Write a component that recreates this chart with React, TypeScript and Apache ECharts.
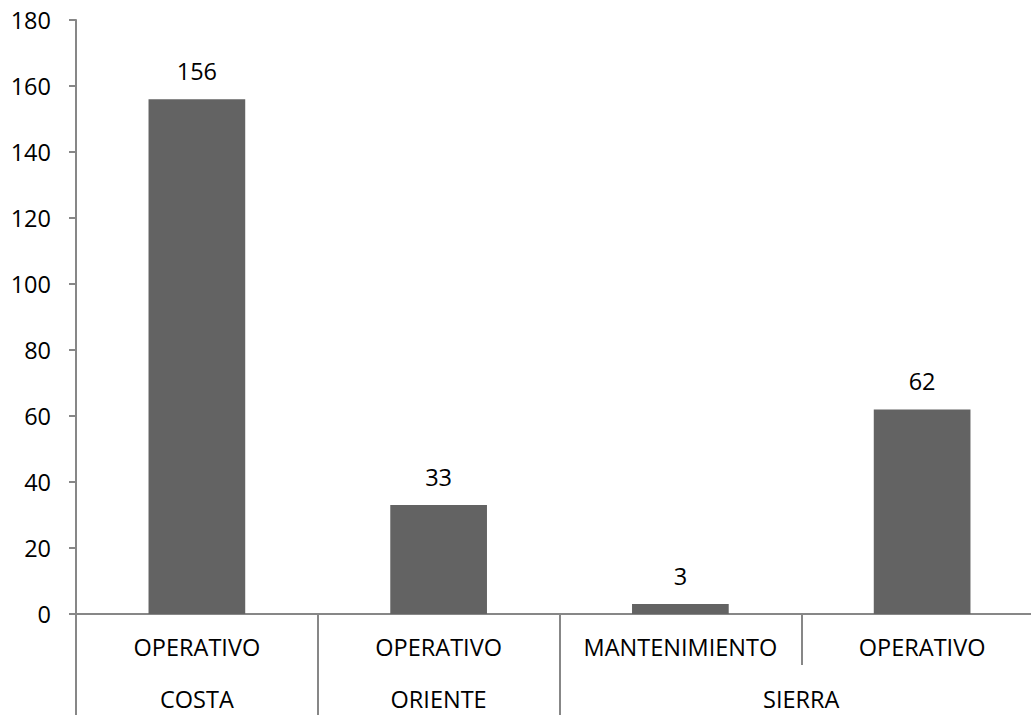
import React, { useEffect, useRef } from "react";
import * as echarts from "echarts";

const categories = ["OPERATIVO", "OPERATIVO", "MANTENIMIENTO", "OPERATIVO"];
const values = [156, 33, 3, 62];
const groupNames = ["COSTA", "ORIENTE", "SIERRA"];
const groupSizes = [1, 1, 2];

const AXIS = "#878787";
const BAR = "#636363";
const FONT = "Open Sans";
const FS = 23.5;

export default function App() {
  const ref = useRef<HTMLDivElement>(null);
  useEffect(() => {
    if (!ref.current) return;
    const chart = echarts.init(ref.current, undefined, { renderer: "svg" });

    const groupBounds: number[] = [0];
    const groupCenters: number[] = [];
    let acc = 0;
    groupSizes.forEach((s) => {
      groupCenters.push(acc + s / 2);
      acc += s;
      groupBounds.push(acc);
    });
    const outerTicks = groupBounds.slice(0, -1);
    const innerTicks: number[] = [];
    for (let i = 1; i < categories.length; i++) {
      if (!groupBounds.includes(i)) innerTicks.push(i);
    }

    chart.setOption({
      animation: false,
      textStyle: { fontFamily: FONT },
      grid: { left: 76, right: 0, top: 20, bottom: 101 },
      xAxis: [
        {
          type: "category",
          data: categories,
          position: "bottom",
          axisLine: { show: true, lineStyle: { color: AXIS, width: 2 } },
          axisTick: { show: false },
          axisLabel: { color: "#000", fontSize: FS, fontFamily: FONT, margin: 21, interval: 0 },
        },
        {
          type: "value",
          min: 0,
          max: categories.length,
          position: "bottom",
          axisLine: { show: false },
          splitLine: { show: false },
          axisTick: {
            show: true,
            customValues: outerTicks,
            length: 101,
            lineStyle: { color: AXIS, width: 2 },
          },
          axisLabel: {
            show: true,
            customValues: groupCenters,
            formatter: (v: number) => {
              const i = groupCenters.findIndex((c) => Math.abs(c - v) < 1e-6);
              return i >= 0 ? groupNames[i] : "";
            },
            color: "#000",
            fontSize: FS,
            fontFamily: FONT,
            margin: 73,
          },
        },
        {
          type: "value",
          min: 0,
          max: categories.length,
          position: "bottom",
          axisLine: { show: false },
          splitLine: { show: false },
          axisTick: {
            show: true,
            customValues: innerTicks,
            length: 51,
            lineStyle: { color: AXIS, width: 2 },
          },
          axisLabel: { show: false },
        },
      ],
      yAxis: {
        type: "value",
        min: 0,
        max: 180,
        interval: 20,
        axisLine: { show: true, lineStyle: { color: AXIS, width: 2 } },
        axisTick: { show: true, length: 7, lineStyle: { color: AXIS, width: 2 } },
        splitLine: { show: false },
        axisLabel: { color: "#000", fontSize: FS, fontFamily: FONT, margin: 25 },
      },
      series: [
        {
          type: "bar",
          xAxisIndex: 0,
          data: values,
          barWidth: "40%",
          itemStyle: { color: BAR },
          label: {
            show: true,
            position: "top",
            distance: 16,
            color: "#000",
            fontSize: FS,
            fontFamily: FONT,
          },
        },
      ],
    });
    return () => chart.dispose();
  }, []);
  return (
    <div
      style={{
        position: "fixed",
        left: 0,
        top: 0,
        width: 1031,
        height: 715,
        overflow: "hidden",
        background: "#fff",
      }}
    >
      <div ref={ref} style={{ width: 1043, height: 715 }} />
    </div>
  );
}
